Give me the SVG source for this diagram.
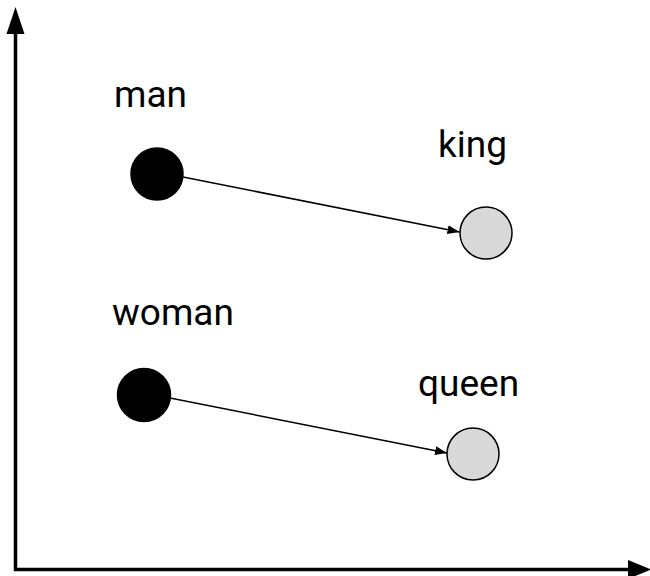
<svg xmlns="http://www.w3.org/2000/svg" width="650" height="576" viewBox="0 0 650 576">
<style>
.lbl{font-family:Roboto,"Liberation Sans",sans-serif;font-size:37px;fill:#000}
.dark{fill:#000;stroke:#000;stroke-width:1.5}
.light{fill:#d9d9d9;stroke:#000;stroke-width:1.5}
.conn{stroke:#000;stroke-width:1.5;fill:none}
.axis{stroke:#000;stroke-width:3.5;fill:none}
</style>
<defs>
<marker id="ah" viewBox="0 0 12 9" refX="12" refY="4.5" markerWidth="12" markerHeight="9" markerUnits="userSpaceOnUse" orient="auto">
<path d="M0,0 L12,4.5 L0,9 Z" fill="#000"/>
</marker>
</defs>
<g id="axes">
<polyline class="axis" points="15.5,30 15.5,569.5 630,569.5"/>
<polygon points="15.5,7 6.5,34 24.5,34" fill="#000"/>
<polygon points="651,569.5 628,560 628,579" fill="#000"/>
</g>
<g id="connectors">
<line class="conn" x1="183" y1="177" x2="459.5" y2="232" marker-end="url(#ah)"/>
<line class="conn" x1="170" y1="398" x2="447" y2="453" marker-end="url(#ah)"/>
</g>
<g id="man"><circle class="dark" cx="157" cy="174" r="26"/><text class="lbl" x="114" y="107">man</text></g>
<g id="king"><circle class="light" cx="486" cy="233" r="26"/><text class="lbl" x="438" y="157">king</text></g>
<g id="woman"><circle class="dark" cx="144" cy="395" r="26.5"/><text class="lbl" x="112" y="325">woman</text></g>
<g id="queen"><circle class="light" cx="473" cy="454" r="26"/><text class="lbl" x="418" y="396">queen</text></g>
</svg>
